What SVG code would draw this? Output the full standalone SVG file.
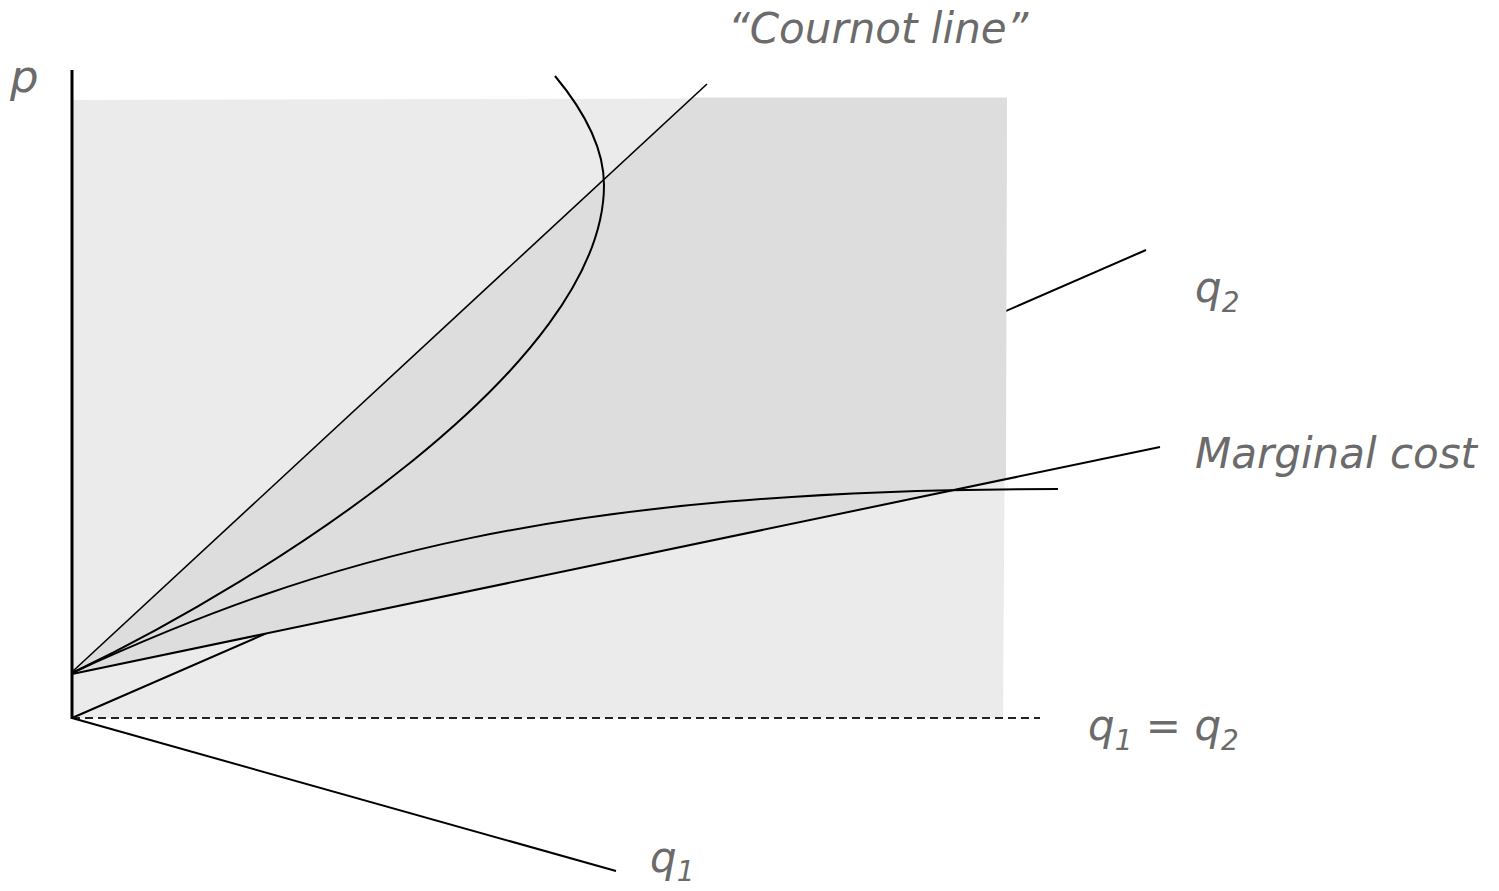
<svg xmlns="http://www.w3.org/2000/svg" width="1499" height="891" viewBox="0 0 1499 891">
<style>
.ln{fill:none;stroke:#000;stroke-width:2;stroke-linecap:butt}
.th{fill:none;stroke:#000;stroke-width:1.6}
.lbl{font-family:"DejaVu Sans","Liberation Sans",sans-serif;font-style:italic;font-size:42px;fill:#6b6b6b}
.sub{font-size:28px}
</style>
<rect width="1499" height="891" fill="#fff"/>
<g id="regions">
<polygon id="light-region" points="72,100 1007,98 1003,718 72,718" fill="#ebebeb"/>
</g>
<g id="connectors">
<line id="q2-axis" class="ln" x1="72" y1="718" x2="1146" y2="250"/>
<polygon id="dark-region" points="72,673 692,97.5 1007,97.5 1006,479 72,674" fill="#dddddd"/>
<line id="dashed" x1="72" y1="718" x2="1040" y2="718" stroke="#222" stroke-width="2" stroke-dasharray="8,5"/>
<line id="q1-axis" class="ln" x1="72" y1="718" x2="616" y2="871"/>
<line id="cournot" class="th" x1="72" y1="672" x2="707" y2="84"/>
<line id="mc" class="ln" x1="72" y1="674" x2="1160" y2="447"/>
<path id="curve-a" class="ln" d="M555,76 C575,100 604,140 604,185 C604,365 272,577 72,673"/>
<path id="curve-b" class="ln" d="M72,673 C322,558 558,489 1058,489"/>
<line id="p-axis" x1="72" y1="70" x2="72" y2="719" stroke="#000" stroke-width="3"/>
</g>
<g id="labels">
<text id="lbl-p" class="lbl" x="10" y="92" style="font-size:45px">p</text>
<text id="lbl-cournot" class="lbl" x="728" y="43">“Cournot line”</text>
<text id="lbl-q2" class="lbl" x="1195" y="302">q<tspan class="sub" dy="10">2</tspan></text>
<text id="lbl-mc" class="lbl" x="1195" y="468">Marginal cost</text>
<text id="lbl-eq" class="lbl" x="1088" y="740">q<tspan class="sub" dy="10">1</tspan><tspan dy="-10"> = q</tspan><tspan class="sub" dy="10">2</tspan></text>
<text id="lbl-q1" class="lbl" x="650" y="872">q<tspan class="sub" dy="9">1</tspan></text>
</g>
</svg>
